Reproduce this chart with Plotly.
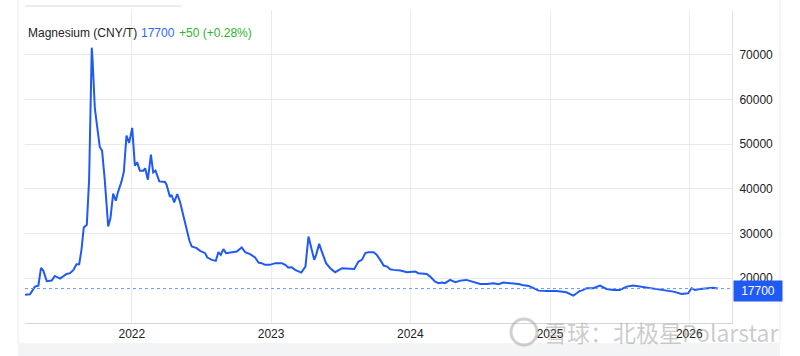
import plotly.graph_objects as go

# ---- data ----
dates = [
    "2021-03-27", "2021-04-09", "2021-04-22", "2021-05-01", "2021-05-08", "2021-05-14",
    "2021-05-23", "2021-06-05", "2021-06-13", "2021-06-27", "2021-07-14", "2021-07-23",
    "2021-08-01", "2021-08-09", "2021-08-16", "2021-08-22", "2021-08-28", "2021-09-05",
    "2021-09-11", "2021-09-18", "2021-09-20", "2021-09-26", "2021-10-02", "2021-10-09",
    "2021-10-15", "2021-10-22", "2021-10-31", "2021-11-06", "2021-11-13", "2021-11-20",
    "2021-11-25", "2021-12-01", "2021-12-05", "2021-12-11", "2021-12-18", "2021-12-25",
    "2022-01-02", "2022-01-09", "2022-01-15", "2022-01-22", "2022-01-31", "2022-02-05",
    "2022-02-12", "2022-02-20", "2022-02-26", "2022-03-04", "2022-03-14", "2022-03-29",
    "2022-04-02", "2022-04-11", "2022-04-15", "2022-04-22", "2022-04-30", "2022-05-07",
    "2022-05-16", "2022-05-25", "2022-06-01", "2022-06-07", "2022-06-20", "2022-06-29",
    "2022-07-12", "2022-07-18", "2022-07-30", "2022-08-09", "2022-08-16", "2022-08-22",
    "2022-08-29", "2022-09-05", "2022-09-20", "2022-10-03", "2022-10-16", "2022-10-25",
    "2022-11-07", "2022-11-20", "2022-11-29", "2022-12-07", "2022-12-16", "2022-12-29",
    "2023-01-12", "2023-01-29", "2023-02-07", "2023-02-15", "2023-02-24", "2023-03-05",
    "2023-03-21", "2023-04-01", "2023-04-09", "2023-04-15", "2023-04-24", "2023-04-29",
    "2023-05-07", "2023-05-14", "2023-05-25", "2023-06-05", "2023-06-18", "2023-07-06",
    "2023-07-23", "2023-08-07", "2023-08-18", "2023-08-27", "2023-09-05", "2023-09-13",
    "2023-09-27", "2023-10-05", "2023-10-14", "2023-10-23", "2023-11-01", "2023-11-09",
    "2023-11-18", "2023-12-06", "2023-12-23", "2024-01-14", "2024-01-22", "2024-02-13",
    "2024-02-22", "2024-03-06", "2024-03-15", "2024-03-24", "2024-04-01", "2024-04-14",
    "2024-04-28", "2024-05-11", "2024-05-27", "2024-06-10", "2024-07-02", "2024-07-20",
    "2024-08-06", "2024-08-19", "2024-09-01", "2024-09-19", "2024-10-02", "2024-10-11",
    "2024-10-20", "2024-11-06", "2024-11-19", "2024-12-02", "2024-12-24", "2025-01-18",
    "2025-02-13", "2025-02-22", "2025-03-03", "2025-03-12", "2025-03-20", "2025-03-25",
    "2025-04-07", "2025-04-24", "2025-05-12", "2025-05-29", "2025-06-16", "2025-07-03",
    "2025-07-21", "2025-08-07", "2025-08-25", "2025-09-28", "2025-10-25", "2025-11-20",
    "2025-12-12", "2025-12-29", "2026-01-07", "2026-01-16", "2026-01-29", "2026-02-15",
    "2026-03-04", "2026-03-17",
]
prices = [
    16300, 16430, 18140, 18360, 22330, 21720,
    19350, 19480, 20530, 19930, 20980, 21140,
    21880, 23160, 23160, 26360, 31360, 31970,
    42050, 71580, 68950, 58120, 54000, 49380,
    48550, 42050, 31590, 33470, 38920, 37350,
    39070, 40550, 41670, 43780, 51920, 50280,
    53640, 45190, 45930, 44070, 44070, 44590,
    42050, 47660, 43690, 44070, 41670, 41540,
    40930, 38180, 38690, 36960, 38850, 37190,
    34210, 30850, 28380, 27100, 26740, 26140,
    25620, 24640, 24120, 23900, 25850, 25240,
    26520, 25620, 25850, 25980, 26880, 25850,
    25400, 24640, 23520, 23380, 23000, 23000,
    23380, 23380, 23000, 22400, 22480, 21880,
    21270, 22620, 29340, 27100, 24120, 25240,
    27700, 25980, 23380, 22260, 21360, 22260,
    22100, 22100, 23740, 24120, 25620, 25850,
    25850, 25240, 24120, 22850, 22620, 22030,
    21880, 21720, 21360, 21500, 21140, 20980,
    20380, 19260, 18900, 19030, 18900, 19640,
    19120, 19480, 19640, 19260, 18740, 18740,
    18900, 18670, 19030, 18900, 18900, 18740,
    18520, 18290, 17780, 17240, 17170, 17170,
    16880, 16500, 16120, 16660, 17170, 17240,
    17780, 17780, 18360, 17620, 17400, 17400,
    18140, 18360, 18140, 17620, 17240, 17020,
    16500, 16660, 17780, 17400, 17620, 17780,
    17900, 17700,
]
title_name = "Magnesium (CNY/T)"
last_value = 17700
change_text = "+50 (+0.28%)"
y_ticks = [20000, 30000, 40000, 50000, 60000, 70000]
x_range = ["2021-03-27", "2026-04-23"]
y_range = [10000, 80000]
watermark = "雪球：北极星Polarstar"

BLUE = "#1f5af5"
FONT = "Liberation Sans, Arial, sans-serif"

W, H = 800, 356
ML, MR, MT, MB = 25, 68, 10, 33
PW, PH = W - ML - MR, H - MT - MB


def px(xp):
    return (xp - ML) / PW


def py(yp):
    return (H - MB - yp) / PH


fig = go.Figure()
fig.add_trace(go.Scatter(
    x=dates, y=prices, mode="lines",
    line=dict(color=BLUE, width=2), hoverinfo="skip", showlegend=False,
))

fig.update_layout(
    width=W, height=H,
    margin=dict(l=ML, r=MR, t=MT, b=MB, autoexpand=False),
    paper_bgcolor="white", plot_bgcolor="white",
    font=dict(family=FONT, size=12, color="#222"),
    showlegend=False,
    xaxis=dict(
        type="date", range=x_range, automargin=False,
        tick0="2022-01-01", dtick="M12", tickformat="%Y",
        showgrid=True, gridcolor="#ececec", gridwidth=1,
        showline=True, linecolor="#d6d6d6", linewidth=1,
        ticks="", zeroline=False,
        tickfont=dict(size=12, color="#222"),
        ticklabelstandoff=0,
    ),
    yaxis=dict(
        side="right", range=y_range, tickvals=y_ticks, tickformat="d",
        automargin=False,
        showgrid=True, gridcolor="#e8e8e8", gridwidth=1,
        showline=True, linecolor="#e4e4e4", linewidth=1,
        ticks="", zeroline=False,
        tickfont=dict(size=12, color="#222"),
        ticklabelstandoff=4,
    ),
)

shapes = []
# last-value dotted line
shapes.append(dict(type="line", xref="paper", yref="y", x0=0, x1=1,
                   y0=last_value, y1=last_value,
                   line=dict(color="#6e96ff", width=1, dash="dot")))
# bottom tab band of the page
shapes.append(dict(type="rect", xref="paper", yref="paper",
                   x0=px(18), x1=px(780), y0=py(H + 2), y1=py(343),
                   fillcolor="#f3f4f6", line=dict(width=0), layer="below"))
# container borders
shapes.append(dict(type="line", xref="paper", yref="paper",
                   x0=px(18), x1=px(18), y0=py(343), y1=py(0),
                   line=dict(color="#ececec", width=1)))
shapes.append(dict(type="line", xref="paper", yref="paper",
                   x0=px(780), x1=px(780), y0=py(343), y1=py(0),
                   line=dict(color="#ececec", width=1)))
# search box bottom edge
shapes.append(dict(type="line", xref="paper", yref="paper",
                   x0=px(25), x1=px(181), y0=py(6), y1=py(6),
                   line=dict(color="#d8d8d8", width=1)))
# watermark logo circle
shapes.append(dict(type="circle", xref="paper", yref="paper",
                   x0=px(511), x1=px(537), y0=py(345), y1=py(319),
                   line=dict(color="rgba(150,150,150,0.45)", width=3)))
fig.update_layout(shapes=shapes)

ann = []
ann.append(dict(xref="paper", yref="paper", x=px(26), y=py(33),
                xanchor="left", yanchor="middle", showarrow=False,
                text=title_name, font=dict(size=12, color="#222", family=FONT)))
ann.append(dict(xref="paper", yref="paper", x=px(138.5), y=py(33),
                xanchor="left", yanchor="middle", showarrow=False,
                text=str(last_value), font=dict(size=12, color="#2f66ff", family=FONT)))
ann.append(dict(xref="paper", yref="paper", x=px(177), y=py(33),
                xanchor="left", yanchor="middle", showarrow=False,
                text=change_text, font=dict(size=12, color="#2cb52c", family=FONT)))
# last value tag
ann.append(dict(xref="paper", yref="y", x=1, y=last_value,
                xanchor="left", yanchor="middle", showarrow=False, xshift=1, yshift=-2,
                text=str(last_value), bgcolor=BLUE, width=44, height=16, borderpad=2,
                font=dict(size=12, color="white", family=FONT)))
# watermark
ann.append(dict(xref="paper", yref="paper", x=px(542), y=py(332),
                xanchor="left", yanchor="middle", showarrow=False,
                text=watermark,
                font=dict(size=23, color="rgba(140,140,140,0.45)",
                          family="Noto Sans CJK SC, Liberation Sans, sans-serif")))
fig.update_layout(annotations=ann)

fig.write_html("out.html",
               config={"displayModeBar": False},
               post_script="document.body.style.margin='0';document.body.style.overflow='hidden';")
